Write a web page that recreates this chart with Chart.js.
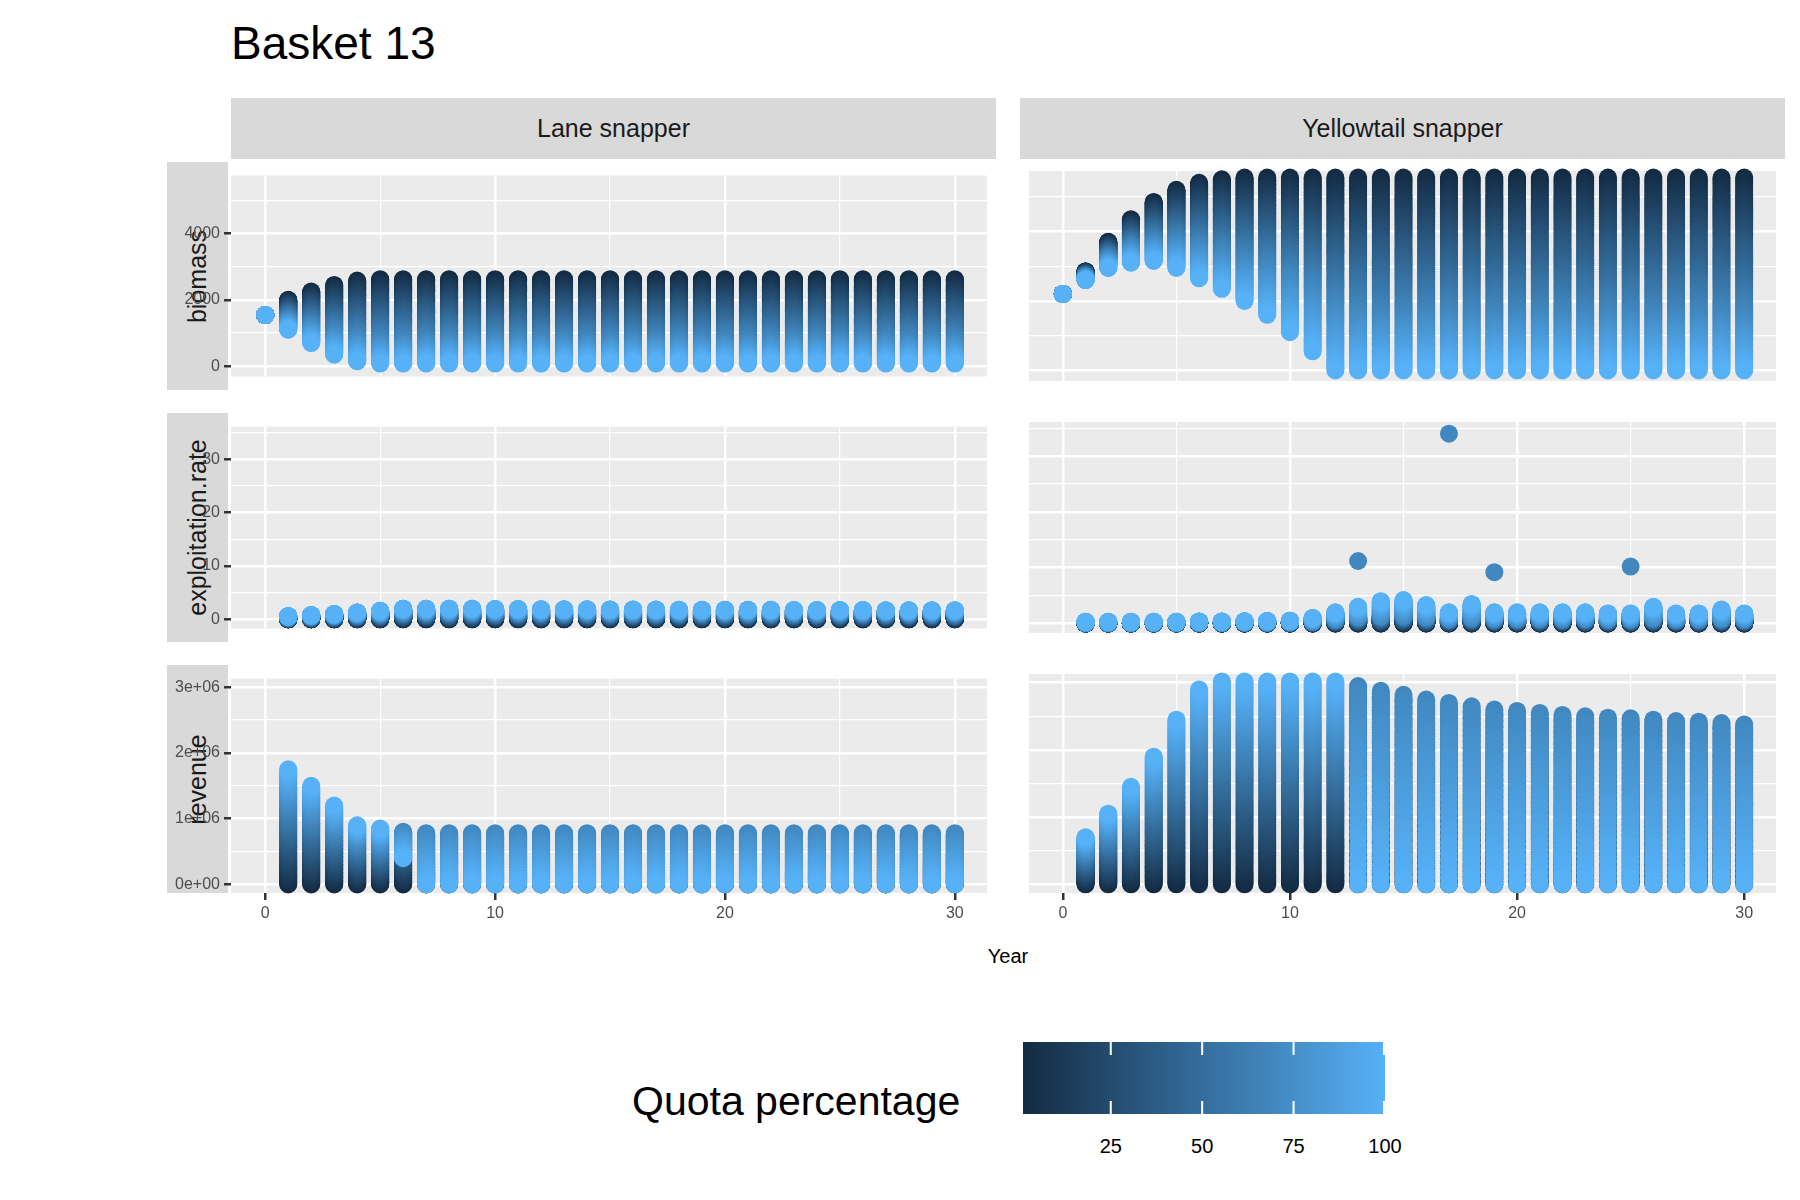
<!DOCTYPE html>
<html><head><meta charset="utf-8">
<script src="https://cdn.jsdelivr.net/npm/chart.js@4"></script>
<style>
body{margin:0;width:1800px;height:1200px;background:#fff;font-family:"Liberation Sans",Arial,sans-serif;position:relative;overflow:hidden}
.abs{position:absolute}
.strip{position:absolute;background:#D9D9D9;color:#1A1A1A;font-size:25px;display:flex;align-items:center;justify-content:center}
.vt{transform:rotate(-90deg);white-space:nowrap}
</style></head><body>
<div class="abs" style="left:231px;top:16px;font-size:46px;color:#000">Basket 13</div>
<div class="strip" style="left:231px;top:98px;width:765px;height:61px">Lane snapper</div>
<div class="strip" style="left:1020px;top:98px;width:765px;height:61px">Yellowtail snapper</div>
<div class="strip" style="left:167px;top:162px;width:61px;height:228px"><span class="vt">biomass</span></div>
<div class="strip" style="left:167px;top:413px;width:61px;height:229px"><span class="vt">exploitation.rate</span></div>
<div class="strip" style="left:167px;top:665px;width:61px;height:228px"><span class="vt">revenue</span></div>
<div class="abs" style="left:958px;top:945px;width:100px;text-align:center;font-size:20px;color:#000">Year</div>
<div class="abs" style="left:632px;top:1078px;font-size:41px;color:#000">Quota percentage</div>
<canvas id="cbar" class="abs" width="362" height="72" style="left:1023px;top:1042px"></canvas>
<div id="cbl"></div>
<script>
const years = Array.from({length:31},(_,i)=>i);
const quotaLevels = Array.from({length:100},(_,i)=>i+1);
const anchorQuota = [1,70,100];
// Lane snapper
const laneBioQ1   = [1540,2000,2250,2450,2580,2620,2620,2620,2620,2620,2620,2620,2620,2620,2620,2620,2620,2620,2620,2620,2620,2620,2620,2620,2620,2620,2620,2620,2620,2620,2620];
const laneBioQ70  = [1540,1380,1180,950,800,720,720,720,720,720,720,720,720,720,720,720,720,720,720,720,720,720,720,720,720,720,720,720,720,720,720];
const laneBioQ100 = [1540,1100,700,350,150,80,80,80,80,80,80,80,80,80,80,80,80,80,80,80,80,80,80,80,80,80,80,80,80,80,80];
const laneExpQ1   = [null,0,0,0,0,0,0,0,0,0,0,0,0,0,0,0,0,0,0,0,0,0,0,0,0,0,0,0,0,0,0];
const laneExpQ70  = [null,0.4,0.55,0.7,0.9,1.1,1.4,1.4,1.4,1.4,1.4,1.35,1.35,1.35,1.35,1.3,1.3,1.3,1.3,1.3,1.3,1.3,1.25,1.25,1.25,1.25,1.25,1.25,1.2,1.2,1.2];
const laneExpQ100 = [null,0.6,0.8,1.0,1.3,1.6,2.0,2.0,2.0,2.0,1.95,1.95,1.9,1.9,1.9,1.85,1.85,1.85,1.8,1.8,1.8,1.8,1.8,1.75,1.75,1.75,1.75,1.7,1.7,1.7,1.7];
const laneRevQ1   = [null,0,0,0,0,0,0,0,0,0,0,0,0,0,0,0,0,0,0,0,0,0,0,0,0,0,0,0,0,0,0];
const laneRevQ70  = [null,1.22e6,1.05e6,0.84e6,0.66e6,0.6e6,0.8e6,0.78e6,0.78e6,0.78e6,0.78e6,0.78e6,0.78e6,0.78e6,0.78e6,0.78e6,0.78e6,0.78e6,0.78e6,0.78e6,0.78e6,0.78e6,0.78e6,0.78e6,0.78e6,0.78e6,0.78e6,0.78e6,0.78e6,0.78e6,0.78e6];
const laneRevQ100 = [null,1.75e6,1.5e6,1.2e6,0.9e6,0.85e6,0.4e6,0,0,0,0,0,0,0,0,0,0,0,0,0,0,0,0,0,0,0,0,0,0,0,0];
// Yellowtail snapper
const yellBioQ1   = [2200,2850,3700,4350,4850,5200,5400,5500,5550,5550,5550,5550,5550,5550,5550,5550,5550,5550,5550,5550,5550,5550,5550,5550,5550,5550,5550,5550,5550,5550,5550];
const yellBioQ70  = [2200,2680,3200,3500,3650,3650,3500,3300,3100,2900,2600,2300,1800,1600,1500,1500,1500,1500,1500,1500,1500,1500,1500,1500,1500,1500,1500,1500,1500,1500,1500];
const yellBioQ100 = [2200,2600,2950,3100,3150,2950,2650,2350,2000,1600,1100,550,0,0,0,0,0,0,0,0,0,0,0,0,0,0,0,0,0,0,0];
const yellExpQ1   = [null,0,0,0,0,0,0,0,0,0,0,0,0,0,0,0,0,0,0,0,0,0,0,0,0,0,0,0,0,0,0];
const yellExpQ70  = [null,0.1,0.1,0.1,0.1,0.1,0.15,0.15,0.2,0.2,0.25,0.4,0.8,1.2,1.4,1.5,1.2,0.9,1.1,0.9,0.9,0.9,0.9,0.9,0.8,0.8,1.0,0.8,0.8,0.9,0.8];
const yellExpQ100 = [null,0.3,0.3,0.3,0.3,0.3,0.35,0.35,0.4,0.45,0.5,1.0,2.0,3.0,4.0,4.2,3.3,2.0,3.5,2.0,2.0,2.0,2.0,2.0,1.8,1.8,3.0,1.8,1.8,2.5,1.8];
const yellExpOutlierYear  = [13,17,19,25];
const yellExpOutlierValue = [11.2,34,9.2,10.2];
const yellExpOutlierQuota = [70,70,70,70];
const yellRevQ1   = [null,0,0,0,0,0,0,0,0,0,0,0,0,0,0,0,0,0,0,0,0,0,0,0,0,0,0,0,0,0,0];
const yellRevTop  = [null,0.7e6,1.05e6,1.45e6,1.9e6,2.45e6,2.9e6,3.02e6,3.02e6,3.02e6,3.02e6,3.02e6,3.02e6,2.95e6,2.88e6,2.82e6,2.75e6,2.7e6,2.65e6,2.6e6,2.58e6,2.55e6,2.52e6,2.5e6,2.48e6,2.47e6,2.45e6,2.43e6,2.42e6,2.4e6,2.38e6];
const yellRevQ100 = [null,0.7e6,1.05e6,1.45e6,1.9e6,2.45e6,2.9e6,3.02e6,3.02e6,3.02e6,3.02e6,3.02e6,3.02e6,0,0,0,0,0,0,0,0,0,0,0,0,0,0,0,0,0,0];
const yellRevQ70 = yellRevTop.map((v,i)=> v===null?null:(yellRevQ100[i]===0? v : v*0.7));
const xTicks=[0,5,10,15,20,25,30];
const cLow=[0x13,0x2B,0x43], cHigh=[0x56,0xB1,0xF7];
function qColor(q){const t=(q-1)/99;const c=cLow.map((a,i)=>Math.round(a+(cHigh[i]-a)*t));return `rgb(${c[0]},${c[1]},${c[2]})`;}
function interp(q,a,b,c){ if(q<=70) return a+(b-a)*(q-1)/69; return b+(c-b)*(q-70)/30; }
function build(q1,q70,q100,extra){
  const pts=[],cols=[];
  years.forEach((y,i)=>{ if(q1[i]===null) return;
    quotaLevels.forEach(q=>{pts.push({x:y,y:interp(q,q1[i],q70[i],q100[i])});cols.push(qColor(q));});});
  if(extra){extra[0].forEach((y,k)=>{pts.push({x:y,y:extra[1][k]});cols.push(qColor(extra[2][k]));});}
  return {pts,cols};
}
const plain=v=>String(v);
const sci=v=>(v/1e6)+'e+'+(v===0?'00':'06');
const panels=[
 {d:build(laneBioQ1,laneBioQ70,laneBioQ100),x:231,y:162,h:228,min:-305,max:5740,ticks:[0,1000,2000,3000,4000,5000],lab:[0,2000,4000],left:true,bottom:false,fmt:plain},
 {d:build(yellBioQ1,yellBioQ70,yellBioQ100),x:1020,y:162,h:228,min:-305,max:5740,ticks:[0,1000,2000,3000,4000,5000],lab:[0,2000,4000],left:false,bottom:false,fmt:plain},
 {d:build(laneExpQ1,laneExpQ70,laneExpQ100),x:231,y:413,h:229,min:-1.7,max:36.1,ticks:[0,5,10,15,20,25,30,35],lab:[0,10,20,30],left:true,bottom:false,fmt:plain},
 {d:build(yellExpQ1,yellExpQ70,yellExpQ100,[yellExpOutlierYear,yellExpOutlierValue,yellExpOutlierQuota]),x:1020,y:413,h:229,min:-1.7,max:36.1,ticks:[0,5,10,15,20,25,30,35],lab:[0,10,20,30],left:false,bottom:false,fmt:plain},
 {d:build(laneRevQ1,laneRevQ70,laneRevQ100),x:231,y:665,h:228,min:-0.13e6,max:3.13e6,ticks:[0,0.5e6,1e6,1.5e6,2e6,2.5e6,3e6],lab:[0,1e6,2e6,3e6],left:true,bottom:true,fmt:sci},
 {d:build(yellRevQ1,yellRevQ70,yellRevQ100),x:1020,y:665,h:228,min:-0.13e6,max:3.13e6,ticks:[0,0.5e6,1e6,1.5e6,2e6,2.5e6,3e6],lab:[0,1e6,2e6,3e6],left:false,bottom:true,fmt:sci},
];
const bg={id:'bg',beforeDraw(c){const a=c.chartArea,g=c.ctx;g.save();g.fillStyle='#EBEBEB';g.fillRect(a.left,a.top,a.right-a.left,a.bottom-a.top);g.restore();}};
const L=85,B=40,W=765;
panels.forEach(p=>{
  const lw=p.left?L:0, bh=p.bottom?B:0;
  const wrap=document.createElement('div');wrap.className='abs';
  wrap.style.cssText=`left:${p.x-lw}px;top:${p.y}px;width:${W+lw}px;height:${p.h+bh}px`;
  const cv=document.createElement('canvas');
  cv.width=W+lw; cv.height=p.h+bh;
  cv.style.width=(W+lw)+'px'; cv.style.height=(p.h+bh)+'px'; cv.style.display='block';
  wrap.appendChild(cv);document.body.appendChild(wrap);
  const isXL=v=>v%10===0, isYL=v=>p.lab.includes(v);
  new Chart(cv,{type:'scatter',
   data:{datasets:[{data:p.d.pts,pointBackgroundColor:p.d.cols,pointBorderWidth:0,pointRadius:9,pointHoverRadius:9,clip:12}]},
   options:{responsive:false,animation:false,events:[],layout:{padding:0},
    plugins:{legend:{display:false},tooltip:{enabled:false}},
    scales:{
     x:{type:'linear',min:-1.49,max:31.4,
      afterBuildTicks:s=>{s.ticks=xTicks.map(v=>({value:v}));},
      afterFit:s=>{s.height=bh;},
      border:{display:false},
      grid:{color:'#fff',lineWidth:c=>isXL(c.tick.value)?2.5:1.2,drawTicks:p.bottom,tickLength:7,
        tickColor:c=>isXL(c.tick.value)?'#333':'rgba(0,0,0,0)',tickWidth:2.5},
      ticks:{display:p.bottom,autoSkip:false,maxRotation:0,padding:4,color:'#4D4D4D',font:{size:16,family:'Liberation Sans'},
        callback:v=>isXL(v)?String(v):''}},
     y:{type:'linear',min:p.min,max:p.max,
      afterBuildTicks:s=>{s.ticks=p.ticks.map(v=>({value:v}));},
      afterFit:s=>{s.width=lw;},
      border:{display:false},
      grid:{color:'#fff',lineWidth:c=>isYL(c.tick.value)?2.5:1.2,drawTicks:p.left,tickLength:7,
        tickColor:c=>isYL(c.tick.value)?'#333':'rgba(0,0,0,0)',tickWidth:2.5},
      ticks:{display:p.left,autoSkip:false,padding:4,color:'#4D4D4D',font:{size:16,family:'Liberation Sans'},
        callback:v=>isYL(v)?p.fmt(v):''}}
    }},plugins:[bg]});
});
// colour bar
const cb=document.getElementById('cbar'),g=cb.getContext('2d');
const gr=g.createLinearGradient(0,0,362,0);gr.addColorStop(0,qColor(1));gr.addColorStop(1,qColor(100));
g.fillStyle=gr;g.fillRect(0,0,362,72);
const legendTicks=[25,50,75,100];
const cbl=document.getElementById('cbl');
legendTicks.forEach(q=>{const xx=(q-1)/99*362;
  g.fillStyle='#fff';g.fillRect(Math.min(xx-1,360),0,2,13);g.fillRect(Math.min(xx-1,360),59,2,13);
  const d=document.createElement('div');d.className='abs';d.textContent=q;
  d.style.cssText=`left:${1023+xx-30}px;top:1135px;width:60px;text-align:center;font-size:20px;color:#000`;
  cbl.appendChild(d);});
</script></body></html>
